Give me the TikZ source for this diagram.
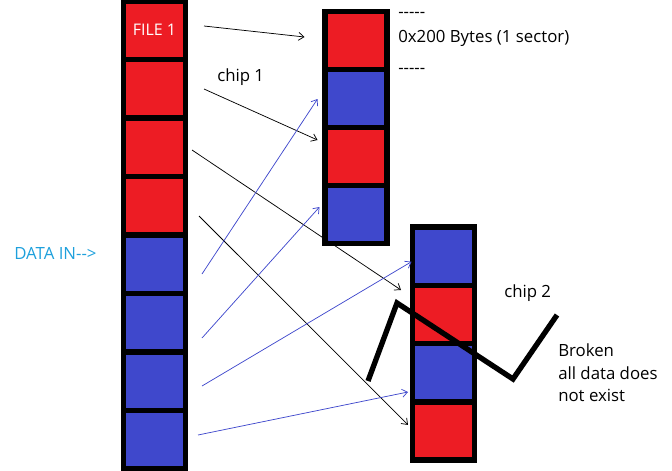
\documentclass[tikz,border=0pt]{standalone}
\usepackage{tikz}
\usepackage{fontspec}
\setmainfont{Open Sans}
\usetikzlibrary{arrows.meta}
\usetikzlibrary{calc}
\definecolor{paintred}{RGB}{237,28,36}
\definecolor{paintblue}{RGB}{63,72,204}
\definecolor{paintcyan}{RGB}{30,160,220}

\begin{document}
\begin{tikzpicture}[x=0.75pt,y=0.75pt,yscale=-1,xscale=1,
  cell/.style={draw=black,line width=4pt,minimum width=46.5pt,inner sep=0pt,outer sep=0pt},
  incell/.style={cell,minimum height=43.9pt},
  chipcell/.style={cell,minimum height=43.6pt},
  redcell/.style={fill=paintred},
  bluecell/.style={fill=paintblue},
  arr/.style={-{Straight Barb[length=4pt,width=6pt]},line width=0.55pt},
  bluearr/.style={arr,draw=paintblue},
  lbl/.style={font=\fontsize{12.6}{15}\selectfont,inner sep=0pt}]
\useasboundingbox (0,0) rectangle (672,471);

%Shape: Rectangle -- data in column
\node[incell,redcell,text=white,font=\fontsize{12}{14}\selectfont] (in1) at (154.5,30.25) {FILE 1};
\node[incell,redcell] (in2) at (154.5,88.75) {};
\node[incell,redcell] (in3) at (154.5,147.25) {};
\node[incell,redcell] (in4) at (154.5,205.75) {};
\node[incell,bluecell] (in5) at (154.5,264.25) {};
\node[incell,bluecell] (in6) at (154.5,322.75) {};
\node[incell,bluecell] (in7) at (154.5,381.25) {};
\node[incell,bluecell] (in8) at (154.5,439.75) {};

%Shape: Rectangle -- chip 1
\node[chipcell,redcell] (ka1) at (356,40.5) {};
\node[chipcell,bluecell] (ka2) at (356,98.5) {};
\node[chipcell,redcell] (ka3) at (356,156.5) {};
\node[chipcell,bluecell] (ka4) at (356,214.5) {};

%Shape: Rectangle -- chip 2
\node[chipcell,bluecell] (kb1) at (443.5,256.1) {};
\node[chipcell,redcell] (kb2) at (443.5,314.4) {};
\node[chipcell,bluecell] (kb3) at (443.5,372.6) {};
\node[chipcell,redcell] (kb4) at (443.5,430.9) {};

%Straight Lines -- red sectors
\coordinate (r1) at (204,26);
\coordinate (r2) at (204,89);
\coordinate (r3) at (192,150);
\coordinate (r4) at (199,216);
\draw[arr] (r1) -- ($(ka1.west)+(-20.5,-3.5)$);
\draw[arr] (r2) -- ($(ka3.west)+(-7.5,-16.5)$);
\draw[arr] (r3) -- ($(kb2.west)+(-11.5,-24.4)$);
\draw[arr] (r4) -- ($(kb4.west)+(-4.5,-6)$);

%Straight Lines -- blue sectors
\coordinate (b1) at (202,274);
\coordinate (b2) at (202,338);
\coordinate (b3) at (202,386);
\coordinate (b4) at (198,435);
\draw[bluearr] (b1) -- ($(ka2.west)+(-7.5,0.5)$);
\draw[bluearr] (b2) -- ($(ka4.west)+(-5.5,-7.5)$);
\draw[bluearr] (b3) -- ($(kb1.west)+(-1,5.6)$);
\draw[bluearr] (b4) -- ($(kb3.west)+(-4.5,19.4)$);

%Straight Lines -- broken mark
\draw[line width=4pt] (368,381) -- (397,303) -- (513,379) -- (557,315);

% Text Node
\node[lbl,anchor=base west] (dashtop) at (398,17.5) {-{}-{}-{}-{}-};
% Text Node
\node[lbl,anchor=base west] (sector) at (398,42.5) {0x200 Bytes (1 sector)};
% Text Node
\node[lbl,anchor=base west] (dashbot) at (398,73) {-{}-{}-{}-{}-};
% Text Node
\node[lbl,anchor=base west] (chipone) at (217,81.5) {chip 1};
% Text Node
\node[lbl,anchor=base west] (chiptwo) at (504,297) {chip 2};
% Text Node
\node[lbl,anchor=base west,text=paintcyan] (datain) at (14,259) {DATA IN-{}->};
% Text Node
\node[lbl,anchor=base west] (brokena) at (558,356.5) {Broken};
\node[lbl,anchor=base west] (brokenb) at (558,379) {all data does};
\node[lbl,anchor=base west] (brokenc) at (558,401.5) {not exist};

\end{tikzpicture}
\end{document}
